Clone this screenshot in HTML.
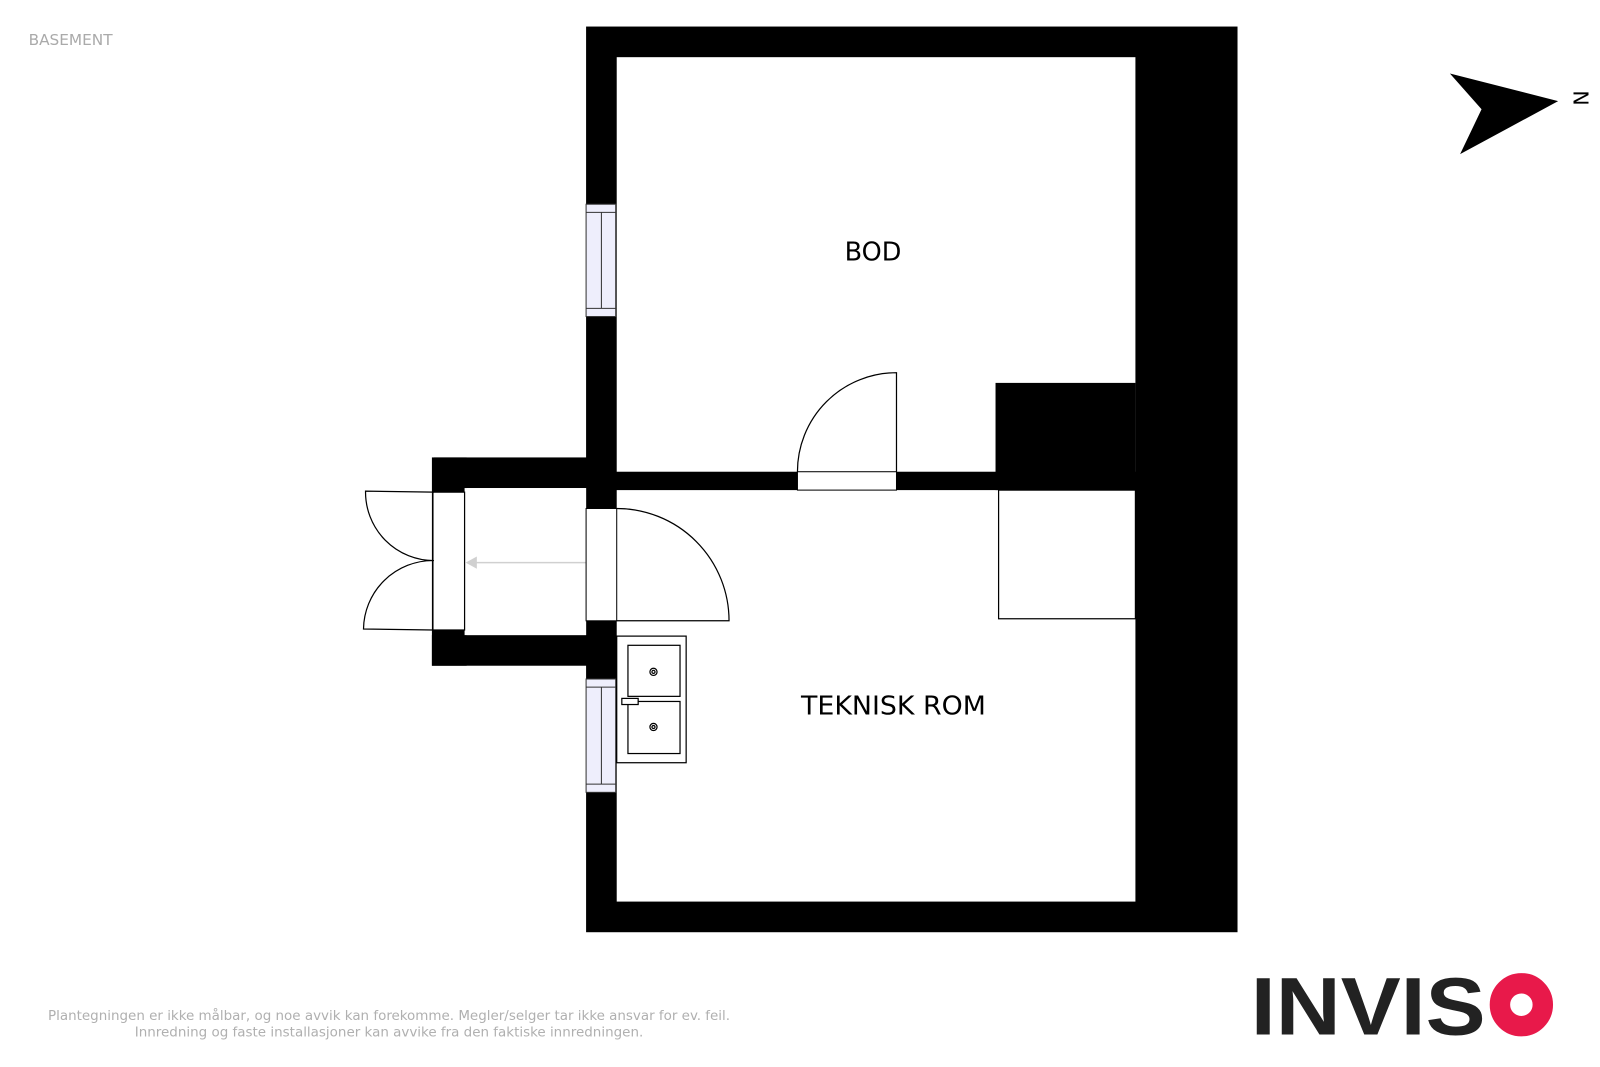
<!DOCTYPE html>
<html><head><meta charset="utf-8"><style>
html,body{margin:0;padding:0;background:#fff;}
svg{display:block;}
</style></head><body>
<svg width="1600" height="1067" viewBox="0 0 1567 1045" xmlns="http://www.w3.org/2000/svg">
<rect width="1567" height="1045" fill="#fff"/>
<text x="28" y="44" font-family="DejaVu Sans, Liberation Sans, sans-serif" font-size="15" fill="#aaa">BASEMENT</text>
<!-- main walls -->
<rect x="574" y="26" width="638" height="887" fill="#000"/>
<rect x="604" y="56" width="508" height="406" fill="#fff"/>
<rect x="604" y="480" width="508" height="403" fill="#fff"/>
<rect x="975" y="375" width="137" height="105" fill="#000"/>
<!-- vestibule -->
<rect x="425" y="448" width="160" height="30" fill="#000"/>
<rect x="423" y="622" width="162" height="30" fill="#000"/>
<rect x="423" y="448" width="34" height="204" fill="#000"/>
<rect x="455" y="478" width="119" height="144" fill="#fff"/>
<!-- left outside door -->
<rect x="424" y="482" width="31" height="135" fill="#fff" stroke="#000" stroke-width="1.2"/>
<path d="M425 482 L358 481 A67 67 0 0 0 425 549" fill="none" stroke="#000" stroke-width="1.2"/>
<path d="M424 617 L356 616 A68 68 0 0 1 424 549" fill="none" stroke="#000" stroke-width="1.2"/>
<line x1="574" y1="551" x2="465" y2="551" stroke="#d0d0d0" stroke-width="1.5"/>
<polygon points="456,551 467,545 467,557" fill="#d0d0d0"/>
<!-- door from vestibule into teknisk -->
<rect x="574" y="498" width="30" height="110" fill="#fff" stroke="#000" stroke-width="1"/>
<path d="M604 498 A110 110 0 0 1 714 608 L604 608" fill="none" stroke="#000" stroke-width="1.2"/>
<!-- door between rooms -->
<rect x="781" y="462" width="97" height="18" fill="#fff" stroke="#000" stroke-width="1"/>
<path d="M878 462 L878 365 A97 97 0 0 0 781 462" fill="none" stroke="#000" stroke-width="1.2"/>
<!-- windows -->
<g stroke="#333" stroke-width="1" fill="#eeeefc">
<rect x="574" y="200" width="29" height="110"/>
<line x1="574" y1="208" x2="603" y2="208"/><line x1="574" y1="302" x2="603" y2="302"/><line x1="589" y1="208" x2="589" y2="302"/>
<rect x="574" y="665" width="29" height="111"/>
<line x1="574" y1="673" x2="603" y2="673"/><line x1="574" y1="768" x2="603" y2="768"/><line x1="589" y1="673" x2="589" y2="768"/>
</g>
<!-- box in teknisk -->
<rect x="978" y="480" width="134" height="126" fill="#fff" stroke="#000" stroke-width="1.2"/>
<!-- sink -->
<g fill="#fff" stroke="#000" stroke-width="1.2">
<rect x="604" y="623" width="68" height="124"/>
<rect x="615" y="632" width="51" height="50"/>
<rect x="615" y="687" width="51" height="51"/>
<circle cx="640" cy="658" r="3.5"/><circle cx="640" cy="658" r="1.5"/>
<circle cx="640" cy="712" r="3.5"/><circle cx="640" cy="712" r="1.5"/>
<rect x="609" y="684" width="16" height="6"/>
</g>
<!-- labels -->
<text x="855" y="255" text-anchor="middle" font-family="DejaVu Sans, Liberation Sans, sans-serif" font-size="25" fill="#000">BOD</text>
<text x="875" y="700" text-anchor="middle" font-family="DejaVu Sans, Liberation Sans, sans-serif" font-size="25" fill="#000" textLength="181" lengthAdjust="spacingAndGlyphs">TEKNISK ROM</text>
<!-- compass -->
<polygon points="1420,72 1526,99 1430,151 1451,107" fill="#000"/>
<text x="1548" y="96" text-anchor="middle" font-family="DejaVu Sans, Liberation Sans, sans-serif" font-size="20" fill="#000" transform="rotate(90 1548 96)" dy="7">N</text>
<!-- footer -->
<text x="381" y="999" text-anchor="middle" font-family="DejaVu Sans Condensed, DejaVu Sans, sans-serif" font-size="13" fill="#b0b0b0" textLength="668" lengthAdjust="spacingAndGlyphs">Plantegningen er ikke målbar, og noe avvik kan forekomme. Megler/selger tar ikke ansvar for ev. feil.</text>
<text x="381" y="1015" text-anchor="middle" font-family="DejaVu Sans Condensed, DejaVu Sans, sans-serif" font-size="13" fill="#b0b0b0" textLength="498" lengthAdjust="spacingAndGlyphs">Innredning og faste installasjoner kan avvike fra den faktiske innredningen.</text>
<!-- logo -->
<text x="1225" y="1013" font-family="Liberation Sans, sans-serif" font-weight="bold" font-size="80" fill="#222" textLength="230" lengthAdjust="spacingAndGlyphs">INVIS</text>
<circle cx="1490" cy="984" r="21" fill="none" stroke="#e8194a" stroke-width="20"/>
</svg>
</body></html>
